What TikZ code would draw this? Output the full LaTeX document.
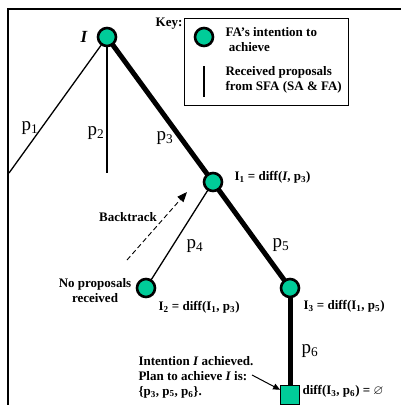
\documentclass[tikz,border=0pt]{standalone}
\usepackage{amssymb}
\usepackage{fontspec}
\setmainfont{Liberation Serif}
\usetikzlibrary{arrows.meta,positioning,backgrounds}
\definecolor{goalgreen}{HTML}{00CC99}

\tikzset{
  intention/.style={circle,draw,line width=2.6pt,fill=goalgreen,minimum size=18pt,inner sep=0pt},
  achieved/.style={rectangle,draw,line width=0.8pt,fill=goalgreen,minimum size=19pt,inner sep=0pt},
  proposal/.style={line width=1.3pt},
  chosen/.style={line width=5pt},
  plabel/.style={font=\fontsize{19}{20}\selectfont},
  lbl/.style={font=\fontsize{13}{15}\selectfont\bfseries},
}

\begin{document}
\begin{tikzpicture}[x=1pt,y=-1pt]
  \useasboundingbox (0,0) rectangle (401,405);
  % frame (right and bottom run off the page)
  \draw[line width=2.2pt] (8,405) -- (8,9) -- (401,9);

  % intentions
  \node[intention] (I) at (107,37) {};
  \node[intention] (I1) at (213,182) {};
  \node[intention] (I2) at (146,288) {};
  \node[intention] (I3) at (290,288) {};
  \node[achieved] (done) at (290,395) {};

  % received proposals
  \coordinate (p1end) at (9,173);
  \coordinate (p2end) at (107,173);
  \begin{scope}[on background layer]
    \draw[proposal] (I.center) -- (p1end);
    \draw[proposal] (I.center) -- (p2end);
    \draw[chosen] (I.center) -- (I1.center);
    \draw[proposal] (I1.center) -- (I2.center);
    \draw[chosen] (I1.center) -- (I3.center);
    \draw[chosen] (I3.center) -- (done.center);
  \end{scope}

  % proposal labels
  \node[plabel] (p1) at (30,128) {p\textsubscript{1}};
  \node[plabel] (p2) at (96,133) {p\textsubscript{2}};
  \node[plabel] (p3) at (165,138) {p\textsubscript{3}};
  \node[plabel] (p4) at (195,246) {p\textsubscript{4}};
  \node[plabel] (p5) at (281,245) {p\textsubscript{5}};
  \node[plabel] (p6) at (310,351) {p\textsubscript{6}};

  % intention labels
  \node[font=\fontsize{17}{17}\selectfont\bfseries\itshape] (Ilabel) at (84,37) {I};
  \node[lbl,anchor=west] (I1label) at (231,177) {I\textsubscript{1} = diff(\textit{I}, p\textsubscript{3})};
  \node[lbl,anchor=west] (I2label) at (155,307) {I\textsubscript{2} = diff(I\textsubscript{1}, p\textsubscript{3})};
  \node[lbl,anchor=west] (I3label) at (300,306) {I\textsubscript{3} = diff(I\textsubscript{1}, p\textsubscript{5})};
  \node[lbl,anchor=west] (donelabel) at (299,391) {diff(I\textsubscript{3}, p\textsubscript{6}) = $\varnothing$};
  \node[lbl,align=center] (noprop) at (95,291) {No proposals\\received};
  \node[lbl,align=left,anchor=west] (plan) at (135,377) {Intention \textit{I} achieved.\\Plan to achieve \textit{I} is:\\\{p\textsubscript{3}, p\textsubscript{5}, p\textsubscript{6}\}.};

  % backtrack
  \coordinate (bt0) at (127,260);
  \coordinate (bt1) at (187,192);
  \draw[dash pattern=on 5pt off 3pt,line width=0.9pt,-{Triangle[length=10pt,width=8pt]}] (bt0) -- (bt1);
  \node[lbl] (backtrack) at (128,217) {Backtrack};

  % pointer to the achieved intention
  \coordinate (ptr) at (252,375);
  \draw[line width=1pt,-{Triangle[length=7pt,width=6pt]}] (ptr) -- (done);

  % key
  \draw[line width=1pt] (184,18) rectangle (348,105);
  \node[lbl] (key) at (169,24) {Key:};
  \node[intention] (keyI) at (204,37) {};
  \coordinate (keytop) at (204,66);
  \coordinate (keybot) at (204,97);
  \draw[proposal] (keytop) -- (keybot);
  \node[lbl,align=left,anchor=west] (keyItext) at (222,40) {FA’s intention to\\\ achieve};
  \node[lbl,align=left,anchor=west] (keyPtext) at (222,80) {Received proposals\\from SFA (SA \& FA)};
\end{tikzpicture}
\end{document}
